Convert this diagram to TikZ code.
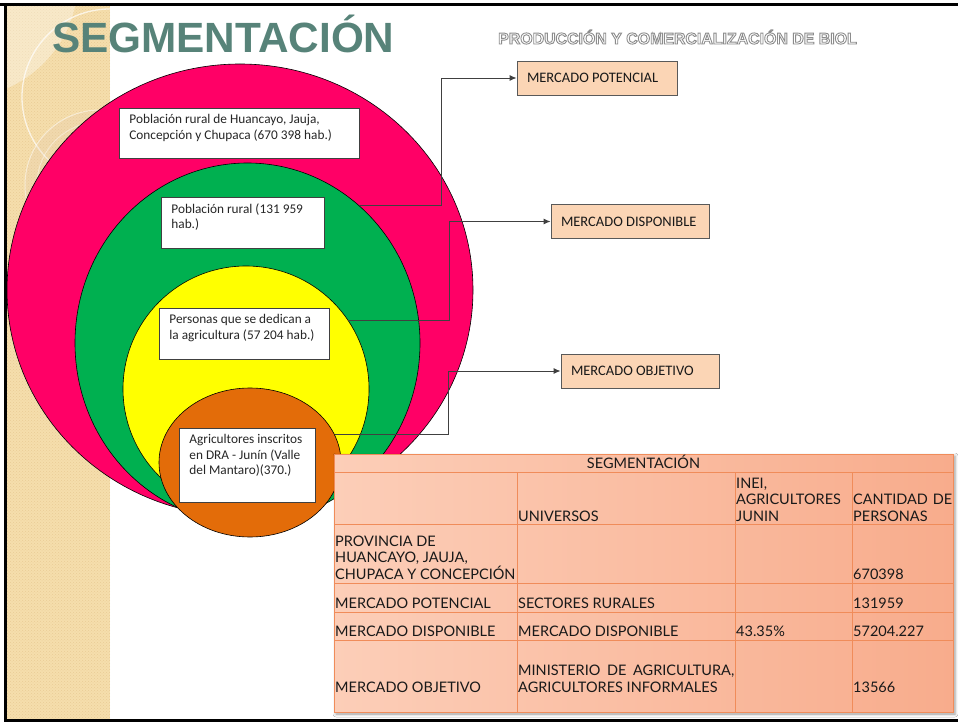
\documentclass[tikz,border=0pt]{standalone}
\usepackage{fontspec}
\setmainfont{Carlito}
\newfontfamily\titlefont{Liberation Sans}
\newfontfamily\tablefont{Lato}
\usetikzlibrary{shapes.geometric,arrows.meta,patterns,shadows.blur}
\definecolor{rosa}{RGB}{255,0,102}
\definecolor{verde}{RGB}{0,176,80}
\definecolor{amarillo}{RGB}{255,255,0}
\definecolor{naranja}{RGB}{227,108,9}
\definecolor{durazno}{RGB}{251,213,181}
\definecolor{titulo}{RGB}{87,131,121}
\definecolor{arena}{RGB}{245,222,172}
\definecolor{tablaA}{RGB}{252,206,184}
\definecolor{tablaB}{RGB}{248,172,140}
\definecolor{linea}{RGB}{240,140,90}
\NewDocumentCommand\contorno{m}{\special{pdf:literal direct 2 Tr 0.9 w 0.55 0.55 0.55 RG}#1\special{pdf:literal direct 0 Tr}}
\NewDocumentCommand\cajatxt{mmm}{\parbox[t][#2][t]{#1}{#3}}

\begin{document}
\begin{tikzpicture}[x=1pt,y=-1pt,>=latex,
    anillo/.style={ellipse,draw=black,line width=0.6pt,inner sep=0pt},
    caja/.style={draw=black!75,fill=white,line width=0.8pt,anchor=north west,
      inner xsep=10pt,inner ysep=6pt,text=black!85,font=\fontsize{13.3}{15.5}\selectfont},
    mercado/.style={draw=black!65,fill=durazno,line width=0.9pt,minimum height=34pt,
      inner xsep=10pt,text=black!90,font=\fontsize{14.5}{16}\selectfont},
    conector/.style={draw=black!75,line width=0.9pt,-{Latex[length=7pt,width=6pt]}},
    celda/.style={anchor=base west,inner sep=0pt,align=left,text=black!90,
      font=\tablefont\fontsize{14.5}{16.5}\selectfont}]
  \useasboundingbox (0,0) rectangle (958,722);
  \fill[white] (0,0) rectangle (958,722);
  % franja lateral
  \begin{scope}
    \clip (7,6) rectangle (110,719);
    \fill[arena] (7,6) rectangle (110,719);
    \fill[pattern=crosshatch dots,pattern color=arena!80!brown] (7,6) rectangle (110,719);
    \fill[white,opacity=.35] (-40,-20) circle (118);
    \draw[white,opacity=.7,line width=1.3pt] (110,97) circle (88);
    \fill[brown!40,opacity=.25] (100,185) circle (75);
    \draw[white,opacity=.5,line width=1pt] (100,185) circle (75);
    \draw[white,opacity=.4,line width=1pt] (100,185) circle (63);
  \end{scope}
  % marco
  \draw[line width=3.5pt] (0,4.5) -- (958,4.5);
  \draw[line width=2.5pt] (5.5,4.5) -- (5.5,722);
  \draw[line width=2.5pt] (5.5,720.5) -- (958,720.5);
  % titulos
  \node[anchor=base west,inner sep=0pt,text=titulo,font=\titlefont\bfseries\fontsize{42.3}{43}\selectfont]
    (titulo) at (52,53) {SEGMENTACIÓN};
  \node[anchor=base west,inner sep=0pt,text=white,font=\titlefont\bfseries\fontsize{15.9}{16}\selectfont]
    (subtitulo) at (498,44) {\contorno{PRODUCCIÓN Y COMERCIALIZACIÓN DE BIOL}};
  % circulos
  \node[anillo,fill=rosa,minimum width=466pt,minimum height=452pt] (rosa) at (240,290) {};
  \node[anillo,fill=verde,minimum width=345pt,minimum height=360pt] (verde) at (247.5,343) {};
  \node[anillo,fill=amarillo,minimum width=246pt,minimum height=246pt] (amarillo) at (246,389) {};
  \node[anillo,fill=naranja,minimum width=182pt,minimum height=149pt] (naranja) at (250,462.5) {};
  % cajas de texto
  \node[caja] (pobTotal) at (119,108) {\cajatxt{220pt}{38pt}{Población rural de Huancayo, Jauja,\\ Concepción y Chupaca (670 398 hab.)}};
  \node[caja] (pobRural) at (161,197) {\cajatxt{143pt}{39pt}{Población rural (131 959\\ hab.)}};
  \node[caja] (pobAgri) at (159,308) {\cajatxt{150pt}{39pt}{Personas que se dedican a\\ la agricultura (57 204 hab.)}};
  \node[caja] (agriDRA) at (179,428) {\cajatxt{116pt}{62pt}{Agricultores inscritos\\ en DRA - Junín (Valle\\ del Mantaro)(370.)}};
  % mercados
  \node[mercado] (pot) at (597,78) {\makebox[140pt][l]{MERCADO POTENCIAL}};
  \node[mercado] (disp) at (630,221.5) {\makebox[138pt][l]{MERCADO DISPONIBLE}};
  \node[mercado] (obj) at (640,371) {\makebox[138pt][l]{MERCADO OBJETIVO}};
  \draw[conector] (verde.51.7) -- ++(82,0) |- (pot.west);
  \draw[conector] (amarillo.34) -- ++(101,0) |- (disp.west);
  \draw[conector] (naranja.18.7) -- ++(114,0) |- (obj.west);
  % tabla
  \shade[left color=tablaA,right color=tablaB,
    blur shadow={shadow xshift=2pt,shadow yshift=-2pt,shadow blur radius=3pt}]
    (334,454) rectangle (953,712);
  \draw[linea,line width=0.8pt] (334,454) rectangle (953,712);
  \foreach \y in {472,524,583,612,640}
    \draw[linea,line width=0.8pt] (334,\y) -- (953,\y);
  \foreach \x in {517,735,852}
    \draw[linea,line width=0.8pt] (\x,472) -- (\x,712);
  \node[celda,anchor=base] (tSeg) at (643.5,468) {SEGMENTACIÓN};
  \node[celda] (tUni) at (518,521) {UNIVERSOS};
  \node[celda] (tInei) at (736,521) {INEI,\\AGRICULTORES\\JUNIN};
  \node[celda] (tCant) at (853,521) {\makebox[99pt][s]{CANTIDAD DE}\\PERSONAS};
  \node[celda] (tProv) at (335,579) {PROVINCIA DE\\HUANCAYO, JAUJA,\\CHUPACA Y CONCEPCIÓN};
  \node[celda] (vProv) at (853,579) {670398};
  \node[celda] (tPot) at (335,608) {MERCADO POTENCIAL};
  \node[celda] (uPot) at (518,608) {SECTORES RURALES};
  \node[celda] (vPot) at (853,608) {131959};
  \node[celda] (tDis) at (335,636) {MERCADO DISPONIBLE};
  \node[celda] (uDis) at (518,636) {MERCADO DISPONIBLE};
  \node[celda] (pDis) at (736,636) {43.35\%};
  \node[celda] (vDis) at (853,636) {57204.227};
  \node[celda] (tObj) at (335,692) {MERCADO OBJETIVO};
  \node[celda] (uObj) at (518,692) {\makebox[216pt][s]{MINISTERIO DE AGRICULTURA,}\\AGRICULTORES INFORMALES};
  \node[celda] (vObj) at (853,692) {13566};
\end{tikzpicture}
\end{document}
